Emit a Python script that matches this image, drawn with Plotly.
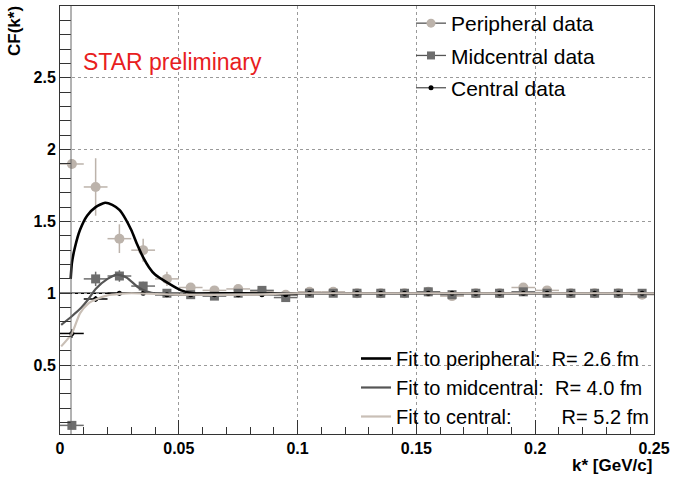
import plotly.graph_objects as go

# ---------------- data ----------------
k_bins = [0.005, 0.015, 0.025, 0.035, 0.045, 0.055, 0.065, 0.075, 0.085, 0.095,
          0.105, 0.115, 0.125, 0.135, 0.145, 0.155, 0.165, 0.175, 0.185, 0.195,
          0.205, 0.215, 0.225, 0.235, 0.245]
k_halfwidth = [0.005] * 25

peripheral = [1.90, 1.74, 1.38, 1.30, 1.10, 1.04, 1.02, 1.03, 1.01, 0.99,
              1.01, 1.01, 1.00, 1.00, 1.00, 1.01, 0.98, 1.00, 1.00, 1.04,
              1.02, 1.00, 1.00, 1.00, 0.99]
peripheral_err = [0.03, 0.20, 0.10, 0.08, 0.05, 0.03, 0.02, 0.02, 0.02, 0.02,
                  0.02, 0.02, 0.02, 0.02, 0.02, 0.02, 0.02, 0.02, 0.02, 0.02,
                  0.02, 0.02, 0.02, 0.02, 0.02]

midcentral = [0.08, 1.10, 1.12, 1.05, 1.00, 0.99, 0.98, 1.00, 1.02, 0.97,
              1.00, 1.00, 1.00, 1.00, 1.00, 1.01, 0.99, 1.00, 1.00, 1.01,
              1.00, 1.00, 1.00, 1.00, 1.00]
midcentral_err = [0.02, 0.05, 0.04, 0.03, 0.02, 0.015, 0.015, 0.015, 0.015, 0.015,
                  0.01, 0.01, 0.01, 0.01, 0.01, 0.01, 0.01, 0.01, 0.01, 0.01,
                  0.01, 0.01, 0.01, 0.01, 0.01]

central = [0.72, 0.96, 1.00, 1.00, 0.99, 0.99, 0.99, 0.99, 0.99, 0.99,
           1.00, 1.00, 1.00, 1.00, 1.00, 1.00, 1.00, 1.00, 1.00, 1.00,
           1.00, 1.00, 1.00, 1.00, 1.00]
central_err = [0.03, 0.02, 0.015, 0.01, 0.01, 0.01, 0.01, 0.01, 0.01, 0.01,
               0.01, 0.01, 0.01, 0.01, 0.01, 0.01, 0.01, 0.01, 0.01, 0.01,
               0.01, 0.01, 0.01, 0.01, 0.01]

# fit curves
fit_per_k = [0.0045, 0.005, 0.0063, 0.0084, 0.0114, 0.015, 0.019, 0.022, 0.025,
             0.0275, 0.03, 0.0325, 0.035, 0.0375, 0.04, 0.0455, 0.051, 0.056, 0.07, 0.25]
fit_per_cf = [1.10, 1.21, 1.32, 1.44, 1.54, 1.60, 1.63, 1.615, 1.58,
              1.52, 1.44, 1.34, 1.25, 1.18, 1.13, 1.07, 1.02, 1.00, 1.00, 1.00]

fit_mid_k = [0.0005, 0.005, 0.009, 0.012, 0.015, 0.02, 0.024, 0.028, 0.033,
             0.037, 0.045, 0.06, 0.1, 0.25]
fit_mid_cf = [0.78, 0.84, 0.90, 0.96, 1.03, 1.10, 1.13, 1.11, 1.04,
              1.01, 0.99, 0.99, 1.00, 1.00]

fit_cen_k = [0.0005, 0.005, 0.0084, 0.012, 0.0155, 0.02, 0.025, 0.03, 0.05,
             0.08, 0.1, 0.25]
fit_cen_cf = [0.63, 0.72, 0.86, 0.93, 0.96, 0.985, 0.995, 1.00, 0.99,
              0.99, 1.00, 1.00]

data_labels = ["Peripheral data", "Midcentral data", "Central data"]
fit_labels = ["Fit to peripheral:\u00a0\u00a0R= 2.6 fm",
              "Fit to midcentral:\u00a0\u00a0R= 4.0 fm",
              "Fit to central:" + "\u00a0" * 9 + "R= 5.2 fm"]

x_range = [0, 0.25]
y_range = [0.02, 3.0]

# ---------------- styling ----------------
FONT = "Liberation Sans, Arial, Helvetica, sans-serif"
C_PER = "#bcb3ab"
C_MID = "#6d6d6d"
C_CEN = "#000000"

fig = go.Figure()

specs = [(peripheral, peripheral_err, C_PER, "circle", 10, 9),
         (midcentral, midcentral_err, C_MID, "square", 9, 8),
         (central, central_err, C_CEN, "circle", 5, 5)]

for (y, err, color, symbol, size, lsize), name in zip(specs, data_labels):
    fig.add_trace(go.Scatter(
        x=k_bins, y=y, mode="markers", name=name, showlegend=False,
        marker=dict(color=color, symbol=symbol, size=size),
        error_y=dict(type="data", array=err, color=color, thickness=1.5, width=0),
        error_x=dict(type="data", array=k_halfwidth, color=color, thickness=1.5, width=0),
    ))
    # legend entry (line + marker, as in the original legend)
    fig.add_trace(go.Scatter(
        x=[None], y=[None], mode="lines+markers", name=name,
        marker=dict(color=color, symbol=symbol, size=lsize),
        line=dict(color="#555555", width=1.3),
        legend="legend", legendgroup=name,
    ))

fit_colors = ["#000000", "#555555", "#c9bfb6"]
fit_widths = [2.6, 2.2, 2.2]
for kk, cf, lab, col, w in zip([fit_per_k, fit_mid_k, fit_cen_k],
                               [fit_per_cf, fit_mid_cf, fit_cen_cf],
                               fit_labels, fit_colors, fit_widths):
    fig.add_trace(go.Scatter(
        x=kk, y=cf, mode="lines", name=lab,
        line=dict(color=col, width=w, shape="spline", smoothing=0.6),
        legend="legend2", legendgroup=lab,
    ))

# horizontal reference line at CF = 1
fig.add_shape(type="line", xref="x", yref="y", x0=x_range[0], x1=x_range[1], y0=1, y1=1,
              line=dict(color="black", width=1.5), layer="below")
# white box behind the fit legend (hides the grid there)
fig.add_shape(type="rect", xref="x", yref="y", x0=0.1115, x1=0.25, y0=0.06, y1=0.67,
              fillcolor="white", line=dict(width=0), layer="below")
# inner vertical line of the y axis tick band
fig.add_shape(type="line", xref="paper", yref="paper", x0=11/594, x1=11/594, y0=0, y1=1,
              line=dict(color="#666666", width=1))

fig.add_annotation(text="STAR preliminary", xref="paper", yref="paper",
                   x=(81-60)/594, y=(434-62)/428, xanchor="left", yanchor="middle",
                   showarrow=False, font=dict(family=FONT, size=23, color="#e8201e"))
fig.add_annotation(text="<b>CF(k*)</b>", xref="paper", yref="paper",
                   x=(15-60)/594, y=(434-4)/428, xanchor="center", yanchor="top",
                   textangle=-90, showarrow=False, font=dict(family=FONT, size=17, color="black"))
fig.add_annotation(text="<b>k* [GeV/c]</b>", xref="paper", yref="paper",
                   x=1.0, y=(434-465)/428, xanchor="right", yanchor="middle",
                   showarrow=False, font=dict(family=FONT, size=17, color="black"))

axis_common = dict(showline=True, linecolor="#333333", linewidth=1, mirror=True,
                   ticks="inside", tickcolor="#333333",
                   showgrid=True, gridcolor="#9a9a9a", griddash="dot", gridwidth=1,
                   zeroline=False,
                   tickfont=dict(family=FONT, size=16, color="black", weight="bold"))

fig.update_xaxes(range=x_range, tickvals=[0, 0.05, 0.1, 0.15, 0.2, 0.25],
                 ticktext=["0", "0.05", "0.1", "0.15", "0.2", "0.25"],
                 ticklen=14, minor=dict(dtick=0.01, ticks="inside", ticklen=7,
                                        tickcolor="#333333", showgrid=False),
                 **axis_common)
fig.update_yaxes(range=y_range, tickvals=[0.5, 1, 1.5, 2, 2.5],
                 ticktext=["0.5", "1", "1.5", "2", "2.5"],
                 ticklen=11, minor=dict(tick0=0, dtick=0.1, ticks="inside", ticklen=11,
                                        tickcolor="#333333", showgrid=False),
                 **axis_common)

fig.update_layout(
    width=673, height=479,
    margin=dict(l=60, r=19, t=6, b=45, autoexpand=False),
    paper_bgcolor="white", plot_bgcolor="white",
    font=dict(family=FONT, color="black"),
    showlegend=True,
    legend=dict(x=(411-60)/594, y=(434-3)/428, xanchor="left", yanchor="top",
                bgcolor="rgba(0,0,0,0)", borderwidth=0,
                font=dict(family=FONT, size=21, color="black"),
                tracegroupgap=2, traceorder="grouped"),
    legend2=dict(x=(356-60)/594, y=(434-339)/428, xanchor="left", yanchor="top",
                 bgcolor="rgba(0,0,0,0)", borderwidth=0,
                 font=dict(family=FONT, size=20, color="black"),
                 tracegroupgap=0, traceorder="grouped"),
)

fig.write_html("out.html")
